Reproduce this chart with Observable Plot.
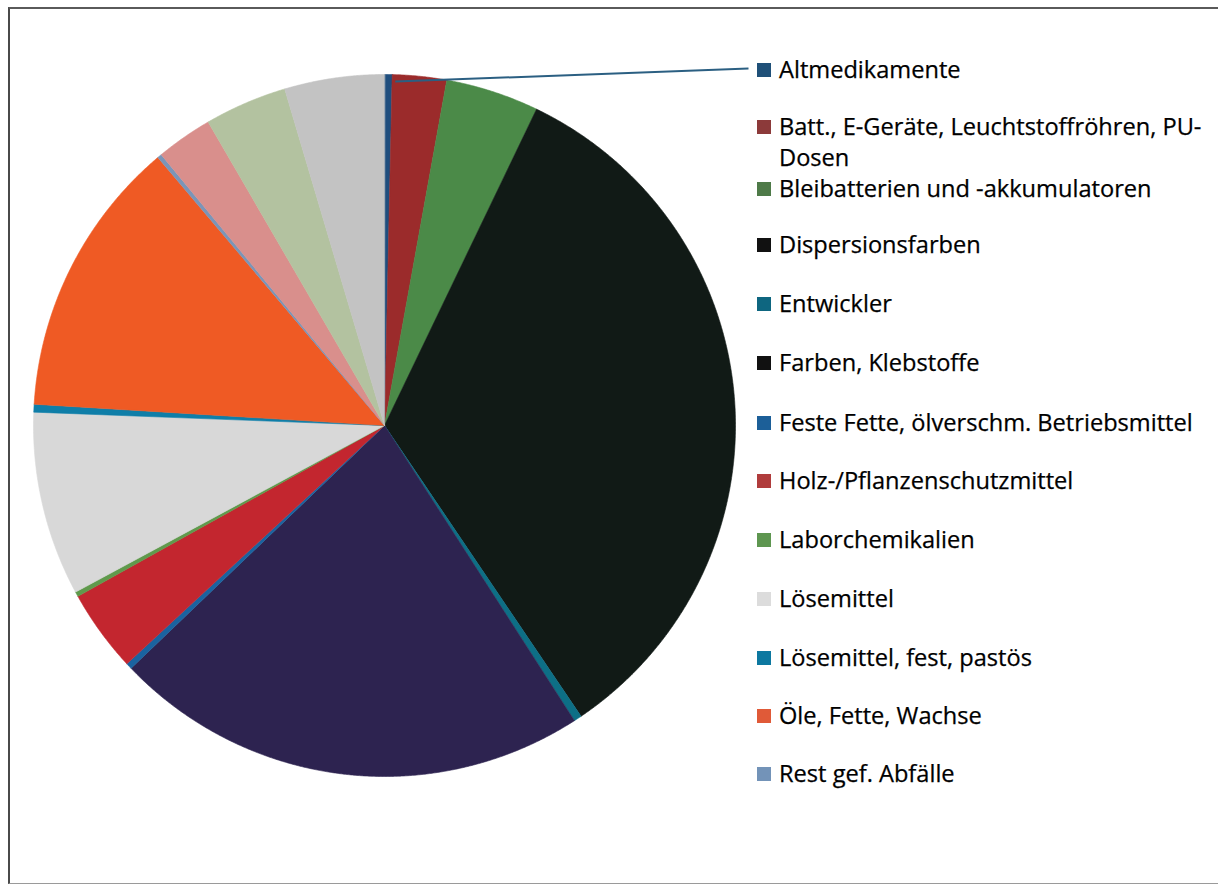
<!DOCTYPE html>
<html><head><meta charset="utf-8">
<script src="https://cdn.jsdelivr.net/npm/d3@7"></script>
<script src="https://cdn.jsdelivr.net/npm/@observablehq/plot@0.6"></script>
<style>
html,body{margin:0;padding:0;background:#fff;}
#wrap{position:relative;width:1218px;height:884px;overflow:hidden;background:#fff;}
#border{position:absolute;left:8px;top:7px;width:1240px;height:874px;border-left:2px solid #4a4a4a;border-top:2px solid #5a5a5a;border-bottom:1px solid #9a9a9a;}
#chart{position:absolute;left:0;top:0;}
.item{position:absolute;left:757px;font-family:"Open Sans", Lato, sans-serif;font-size:20px;color:#000;line-height:31px;white-space:nowrap;-webkit-text-stroke:0.25px #000;}
.sw{position:absolute;left:0;top:9px;width:14px;height:14px;}
.lab{position:absolute;left:22px;top:0;}
.lab span{display:block;}
</style></head>
<body><div id="wrap"><div id="border"></div><div id="chart"></div><div id="legend"></div></div>
<script>
// categories in pie order (clockwise from 12 o'clock); last three are not shown in the (truncated) legend
const categories = [
  "Altmedikamente",
  "Batt., E-Geräte, Leuchtstoffröhren, PU-Dosen",
  "Bleibatterien und -akkumulatoren",
  "Dispersionsfarben",
  "Entwickler",
  "Farben, Klebstoffe",
  "Feste Fette, ölverschm. Betriebsmittel",
  "Holz-/Pflanzenschutzmittel",
  "Laborchemikalien",
  "Lösemittel",
  "Lösemittel, fest, pastös",
  "Öle, Fette, Wachse",
  "Rest gef. Abfälle",
  "weitere (1)",
  "weitere (2)",
  "weitere (3)"
];
// shares in percent
const shares = [0.35, 2.5, 4.3, 33.5, 0.36, 22.0, 0.28, 3.8, 0.22, 8.5, 0.36, 12.9, 0.2, 2.6, 3.8, 4.6];
const sliceColors = ["#1f4e7e","#9b2b2b","#4b8a48","#111a16","#0d6f86","#2d2350","#1a63a0","#c3262f","#5f9a4c","#d8d8d8","#0f7ea8","#ef5a24","#7a95b8","#d98f8c","#b3c2a0","#c3c3c3"];
const swatchColors = ["#1f5078","#8c3a3a","#4e7a48","#111111","#0e6680","#111111","#1c5f98","#b03c3c","#5e9650","#dcdcdc","#0d78a0","#e05a38","#7393b8"];
const legendLabels = [
  ["Altmedikamente"],
  ["Batt., E-Geräte, Leuchtstoffröhren, PU-","Dosen"],
  ["Bleibatterien und -akkumulatoren"],
  ["Dispersionsfarben"],
  ["Entwickler"],
  ["Farben, Klebstoffe"],
  ["Feste Fette, ölverschm. Betriebsmittel"],
  ["Holz-/Pflanzenschutzmittel"],
  ["Laborchemikalien"],
  ["Lösemittel"],
  ["Lösemittel, fest, pastös"],
  ["Öle, Fette, Wachse"],
  ["Rest gef. Abfälle"]
];

const data = categories.map((name, i) => ({name, value: shares[i]}));
const arcs = d3.pie().sort(null).value(d => d.value).startAngle(0).endAngle(2 * Math.PI)(data);

function slice(a) {
  const pts = [[0, 0]];
  const n = Math.max(2, Math.ceil((a.endAngle - a.startAngle) / 0.004));
  for (let i = 0; i <= n; i++) {
    const t = a.startAngle + (a.endAngle - a.startAngle) * i / n;
    pts.push([Math.sin(t), Math.cos(t)]);
  }
  pts.push([0, 0]);
  return {type: "Feature", properties: {name: a.data.name}, geometry: {type: "Polygon", coordinates: [pts]}};
}
const features = arcs.map(slice);
const domain = {type: "Polygon", coordinates: [[[-1, -1], [1, -1], [1, 1], [-1, 1], [-1, -1]]]};

// leader line from Altmedikamente slice to its legend entry
const a0 = arcs[0];
const mid = (a0.startAngle + a0.endAngle) / 2;
const R = 351, cx = 384, cy = 425;
const leader = [{x1: Math.sin(mid) * 0.98 + 0.02, y1: Math.cos(mid) * 0.98, x2: (748 - cx) / R, y2: (cy - 68) / R}];

const chart = Plot.plot({
  width: 1218,
  height: 884,
  marginLeft: cx - R,
  marginTop: cy - R,
  marginRight: 1218 - (cx + R),
  marginBottom: 884 - (cy + R),
  projection: {type: "reflect-y", domain, clip: false},
  color: {domain: categories, range: sliceColors},
  style: {background: "transparent", overflow: "visible"},
  marks: [
    Plot.geo(features, {fill: d => d.properties.name, stroke: d => d.properties.name, strokeWidth: 0.6}),
    Plot.link(leader, {x1: "x1", y1: "y1", x2: "x2", y2: "y2", stroke: "#2b5f82", strokeWidth: 2})
  ]
});
document.getElementById("chart").appendChild(chart);

const rowY = [54, 111, 173, 229, 288, 347, 407, 465, 524, 583, 642, 700, 758];
const leg = document.getElementById("legend");
const labs = [];
legendLabels.forEach((lines, i) => {
  const div = document.createElement("div");
  div.className = "item";
  div.style.top = rowY[i] + "px";
  const sw = document.createElement("div");
  sw.className = "sw";
  sw.style.background = swatchColors[i];
  div.appendChild(sw);
  const lab = document.createElement("div");
  lab.className = "lab";
  lines.forEach((t, j) => {
    const s = document.createElement("span");
    s.textContent = t;
    if (j > 0) s.style.lineHeight = "30px";
    lab.appendChild(s);
  });
  div.appendChild(lab);
  leg.appendChild(div);
  labs.push(div);
});
// fit the font so the longest line spans about the same width as in the reference
const ref = labs[6].querySelector(".lab");
const w = ref.getBoundingClientRect().width;
const fs = Math.max(16, Math.min(26, 20 * 414 / w));
labs.forEach(d => d.style.fontSize = fs + "px");
</script></body></html>
